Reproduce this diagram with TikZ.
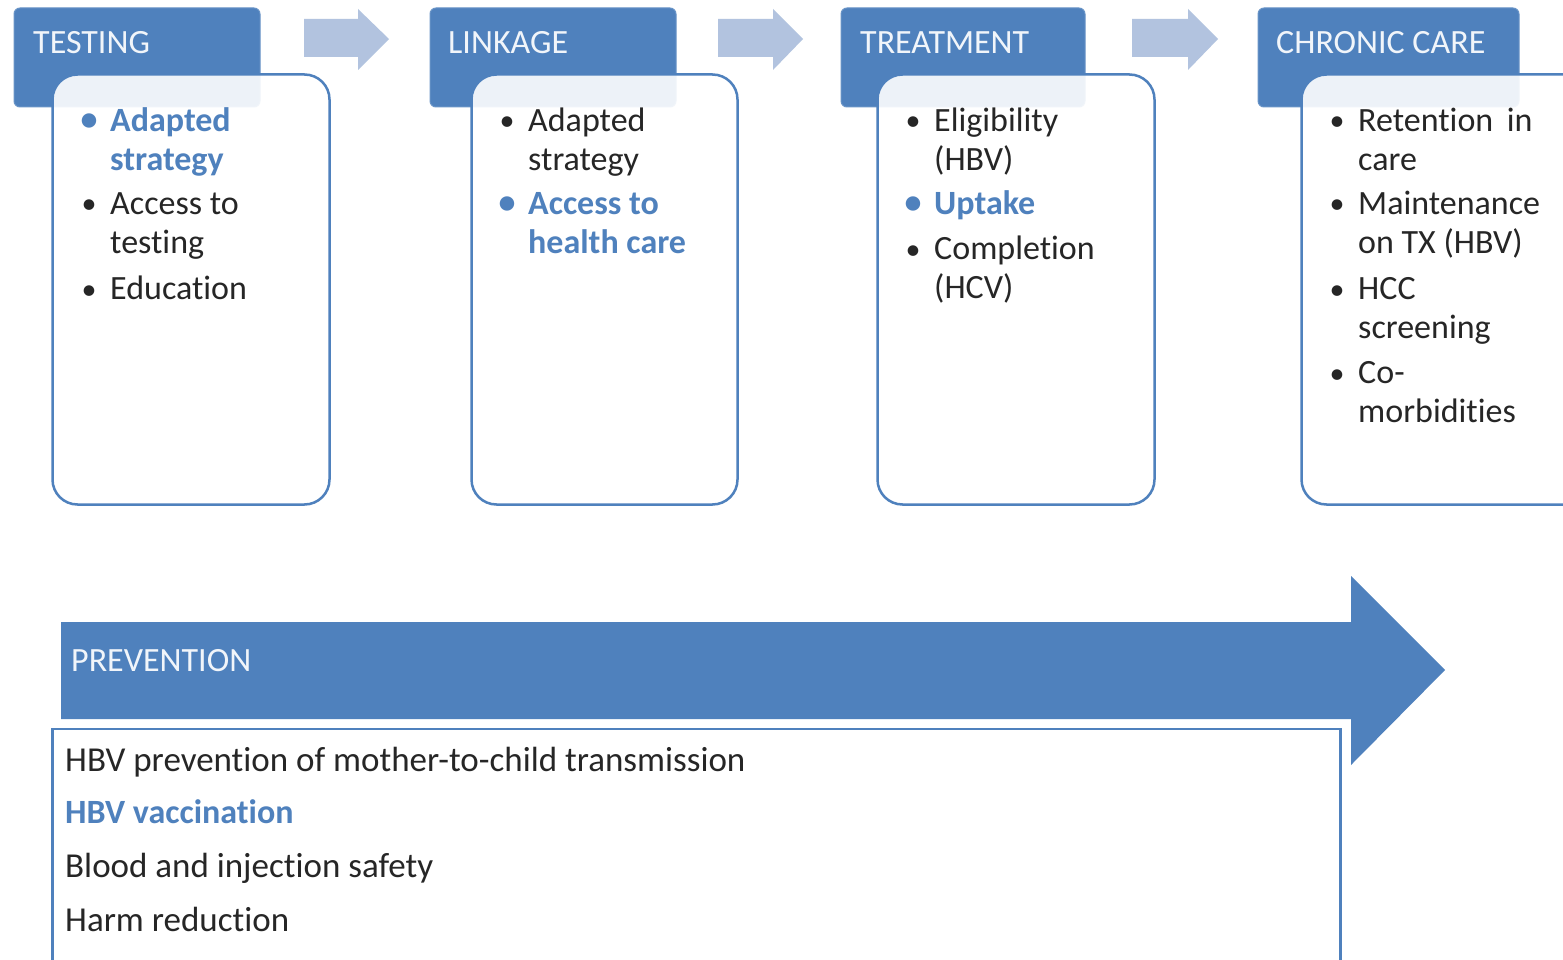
\documentclass[tikz,border=0pt]{standalone}
\usepackage{fontspec}
\setmainfont{Carlito}[Ligatures=NoCommon]
\definecolor{acc}{HTML}{4F81BD}
\definecolor{pale}{HTML}{B2C3DF}
\definecolor{ink}{HTML}{262626}
\tikzset{
  hdr/.style={fill=acc, draw=acc!85!white, line width=1pt, rounded corners=6pt, inner sep=0pt, outer sep=0pt, anchor=north west},
  cbox/.style={draw=acc, line width=2.5pt, fill=white, fill opacity=0.9, rounded corners=25pt, inner sep=0pt, outer sep=0pt, anchor=north west},
  htxt/.style={text=white!92!acc, font=\fontsize{34}{40}\selectfont, inner sep=0pt, anchor=base west},
  itxt/.style={text=ink, font=\fontsize{34}{39.5}\selectfont, inner sep=0pt, anchor=north west, align=left},
  bul/.style={text=ink, font=\fontsize{30}{39.5}\selectfont, inner sep=0pt, anchor=base},
  hl/.style={text=acc, font=\fontsize{34}{39.5}\selectfont\bfseries},
  ptxt/.style={text=ink, font=\fontsize{35}{40}\selectfont, inner sep=0pt, anchor=base west},
  smallarrow/.style={fill=pale},
}
\newcommand\itm[5]{%
  \node[itxt,#4] (#1) at (#2,#3-27.65) {#5};
  \node[bul,#4] (#1b) at (#2-21,#3) {\textbullet};
}
\begin{document}
\begin{tikzpicture}[x=1pt,y=-1pt]
\clip (0,0) rectangle (1563,960);
\fill[white] (0,0) rectangle (1563,960);

% small arrows
\fill[smallarrow] (304,19) -- (358,19) -- (358,9) -- (389,39) -- (358,70) -- (358,57) -- (304,57) -- cycle;
\fill[smallarrow] (718,19) -- (773,19) -- (773,9) -- (803,39) -- (773,70) -- (773,57) -- (718,57) -- cycle;
\fill[smallarrow] (1132,19) -- (1188,19) -- (1188,9) -- (1218,39) -- (1188,70) -- (1188,57) -- (1132,57) -- cycle;

% headers
\node[hdr, minimum width=246pt, minimum height=99pt] (h1) at (14,8) {};
\node[hdr, minimum width=246pt, minimum height=99pt] (h2) at (430,8) {};
\node[hdr, minimum width=244pt, minimum height=99pt] (h3) at (841,8) {};
\node[hdr, minimum width=261pt, minimum height=99pt] (h4) at (1258,8) {};
\node[htxt] (t1) at (33,54) {TESTING};
\node[htxt] (t2) at (448,54) {LINKAGE};
\node[htxt] (t3) at (860,54) {TREATMENT};
\node[htxt] (t4) at (1276,54) {CHRONIC CARE};

% content boxes
\node[cbox, minimum width=277pt, minimum height=430pt] (c1) at (52.5,74.5) {};
\node[cbox, minimum width=266pt, minimum height=430pt] (c2) at (471.5,74.5) {};
\node[cbox, minimum width=277pt, minimum height=430pt] (c3) at (877.5,74.5) {};
\node[cbox, minimum width=300pt, minimum height=430pt] (c4) at (1301.5,74.5) {};

% testing items
\itm{a1}{110}{131}{hl}{\strut Adapted\\\strut strategy}
\itm{a2}{110}{214}{}{\strut Access to\\\strut testing}
\itm{a3}{110}{299}{}{\strut Education}
% linkage items
\itm{b1}{528}{131}{}{\strut Adapted\\\strut strategy}
\itm{b2}{528}{214}{hl}{\strut Access to\\\strut health care}
% treatment items
\itm{d1}{934}{131}{}{\strut Eligibility\\\strut (HBV)}
\itm{d2}{934}{214}{hl}{\strut Uptake}
\itm{d3}{934}{259}{}{\strut Completion\\\strut (HCV)}
% chronic care items
\itm{e1}{1358}{131}{}{\strut Retention\hspace{0.4em}in\\\strut care}
\itm{e2}{1358}{214}{}{\strut Maintenance\\\strut on TX (HBV)}
\itm{e3}{1358}{299}{}{\strut HCC\\\strut screening}
\itm{e4}{1358}{383}{}{\strut Co-\\\strut morbidities}

% prevention arrow
\fill[acc] (61,622) -- (1351,622) -- (1351,576) -- (1445,670) -- (1351,765) -- (1351,719) -- (61,719) -- cycle;
\node[htxt] (pv) at (71,671) {PREVENTION};

% prevention box
\node[draw=acc, line width=2.5pt, fill=white, inner sep=0pt, outer sep=0pt, anchor=north west, minimum width=1288pt, minimum height=260pt] (pbox) at (52.5,729) {};
\node[ptxt] (p1) at (65,771) {HBV prevention of mother-to-child transmission};
\node[ptxt, text=acc, font=\fontsize{34}{40}\selectfont\bfseries] (p2) at (65,823) {HBV vaccination};
\node[ptxt] (p3) at (65,877) {Blood and injection safety};
\node[ptxt] (p4) at (65,931) {Harm reduction};
\end{tikzpicture}
\end{document}
